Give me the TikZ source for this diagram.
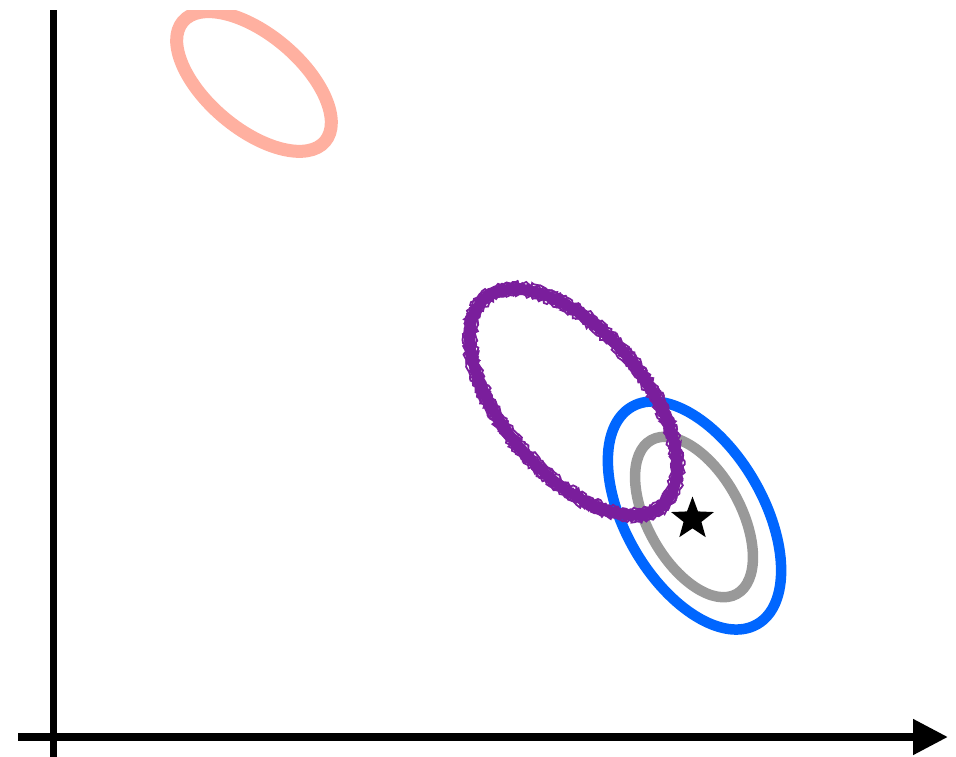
\documentclass[tikz,border=0pt]{standalone}
\usetikzlibrary{arrows.meta,shapes.geometric,decorations.pathmorphing}
\definecolor{pinkc}{HTML}{FFB0A0}
\definecolor{purpc}{HTML}{7A1E9C}
\definecolor{bluec}{HTML}{0066FF}
\definecolor{grayc}{HTML}{999999}
\tikzset{
  axis/.style={line width=7.8pt, black},
  ell/.style={line width=10.5pt},
  rough/.style={purpc, line width=1.8pt, decorate,
    decoration={random steps, segment length=2.5pt, amplitude=1.8pt}},
}
\begin{document}
\begin{tikzpicture}[x=1pt,y=-1pt]
\useasboundingbox (0,0) rectangle (956,757);
\clip (0,11) rectangle (956,757);
\pgfmathsetseed{7}
% axes
\coordinate (ytop) at (53.5,0);
\coordinate (ybot) at (53.5,760);
\coordinate (xl) at (18,737);
\coordinate (xr) at (948,737);
\draw[axis] (ytop) -- (ybot);
\draw[axis, -{Triangle[length=35pt,width=34pt]}] (xl) -- (xr);
% centres
\coordinate (cp) at (254,81.5);
\coordinate (cv) at (573.5,402);
\coordinate (cb) at (694.5,515.5);
\coordinate (cg) at (694,517);
% pink
\draw[ell, pinkc, line width=13pt, rotate around={-40.1:(cp)}] (cp) ellipse [x radius=93, y radius=47];
% blue and gray
\draw[ell, bluec, rotate around={-60:(cb)}] (cb) ellipse [x radius=125.5, y radius=69];
\draw[ell, grayc, rotate around={-61:(cg)}] (cg) ellipse [x radius=88, y radius=46.5];
% purple (rough brush)
\draw[purpc, line width=10.5pt, rotate around={-49.3:(cv)}] (cv) ellipse [x radius=136.2, y radius=70.5];
\foreach \d in {-6.5,-5,-3.5,-2,-0.5,1,2.5,4,5.5,6.5}{
  \draw[rough, rotate around={-49.3:(cv)}] (cv) ellipse [x radius=136.2+\d, y radius=70.5+\d];
}
% star
\node[star, star points=5, star point ratio=2.4, fill=black, minimum size=45pt, inner sep=0pt] (st) at (692.5,519) {};
\end{tikzpicture}
\end{document}
